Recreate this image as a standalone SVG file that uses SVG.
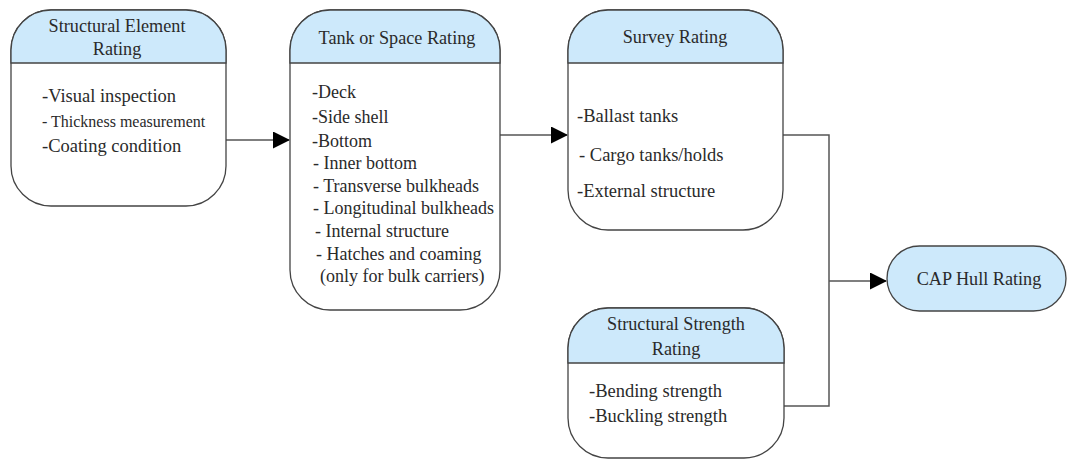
<svg xmlns="http://www.w3.org/2000/svg" width="1068" height="462" viewBox="0 0 1068 462">
<defs>
<style>
.box{fill:#ffffff;stroke:#444;stroke-width:1.3}
.hdr{fill:#cde9fb;stroke:#444;stroke-width:1.3}
text{font-family:'Liberation Serif','Times New Roman',serif;fill:#2a2a2a;font-size:18.5px}
.c{text-anchor:middle;font-size:18.2px}
.s{font-size:16px}
.m{font-size:18px}
.ln{fill:none;stroke:#555;stroke-width:1.5}
</style>
<marker id="ah" markerWidth="17" markerHeight="17" refX="16" refY="8.5" orient="auto" markerUnits="userSpaceOnUse">
<path d="M0,0 L17,8.5 L0,17 Z" fill="#000"/>
</marker>
</defs>
<rect width="1068" height="462" fill="#fff"/>
<g id="connectors">
<line class="ln" x1="226" y1="140" x2="289" y2="140" marker-end="url(#ah)"/>
<line class="ln" x1="500" y1="135" x2="567" y2="135" marker-end="url(#ah)"/>
<polyline class="ln" points="783,135 829,135 829,406 784,406"/>
<line class="ln" x1="829" y1="281" x2="886" y2="281" marker-end="url(#ah)"/>
</g>
<g font-family="Liberation Serif, serif">
<g id="n1">
<rect class="box" x="11" y="10" width="215" height="196" rx="40" ry="40"/>
<path class="hdr" d="M11,63 V50 A40,40 0 0 1 51,10 H186 A40,40 0 0 1 226,50 V63 Z"/>
<text class="c" x="117" y="32">Structural Element</text>
<text class="c" x="117" y="55">Rating</text>
<text x="42" y="102">-Visual inspection</text>
<text class="s" x="42" y="127">- Thickness measurement</text>
<text x="42" y="152">-Coating condition</text>
</g>
<g id="n2">
<rect class="box" x="290" y="10" width="210" height="300" rx="40" ry="40"/>
<path class="hdr" d="M290,63 V50 A40,40 0 0 1 330,10 H460 A40,40 0 0 1 500,50 V63 Z"/>
<text class="c" x="397" y="44">Tank or Space Rating</text>
<text class="m" x="312" y="98">-Deck</text>
<text class="m" x="312" y="123">-Side shell</text>
<text class="m" x="312" y="147">-Bottom</text>
<text class="m" x="313" y="169">- Inner bottom</text>
<text class="m" x="313" y="192">- Transverse bulkheads</text>
<text class="m" x="313" y="214">- Longitudinal bulkheads</text>
<text class="m" x="315" y="237">- Internal structure</text>
<text class="m" x="316" y="260">- Hatches and coaming</text>
<text class="m" x="320" y="282">(only for bulk carriers)</text>
</g>
<g id="n3">
<rect class="box" x="568" y="10" width="215" height="220" rx="40" ry="40"/>
<path class="hdr" d="M568,63 V50 A40,40 0 0 1 608,10 H743 A40,40 0 0 1 783,50 V63 Z"/>
<text class="c" x="675" y="43">Survey Rating</text>
<text x="577" y="122">-Ballast tanks</text>
<text x="579" y="161">- Cargo tanks/holds</text>
<text x="577" y="197">-External structure</text>
</g>
<g id="n4">
<rect class="box" x="568" y="308" width="216" height="150" rx="40" ry="40"/>
<path class="hdr" d="M568,363 V348 A40,40 0 0 1 608,308 H744 A40,40 0 0 1 784,348 V363 Z"/>
<text class="c" x="676" y="330">Structural Strength</text>
<text class="c" x="676" y="355">Rating</text>
<text x="589" y="397">-Bending strength</text>
<text x="589" y="422">-Buckling strength</text>
</g>
<g id="n5">
<rect class="hdr" x="887" y="246" width="179" height="65" rx="32.5" ry="32.5"/>
<text class="c" x="979" y="285">CAP Hull Rating</text>
</g>
</g>
</svg>
